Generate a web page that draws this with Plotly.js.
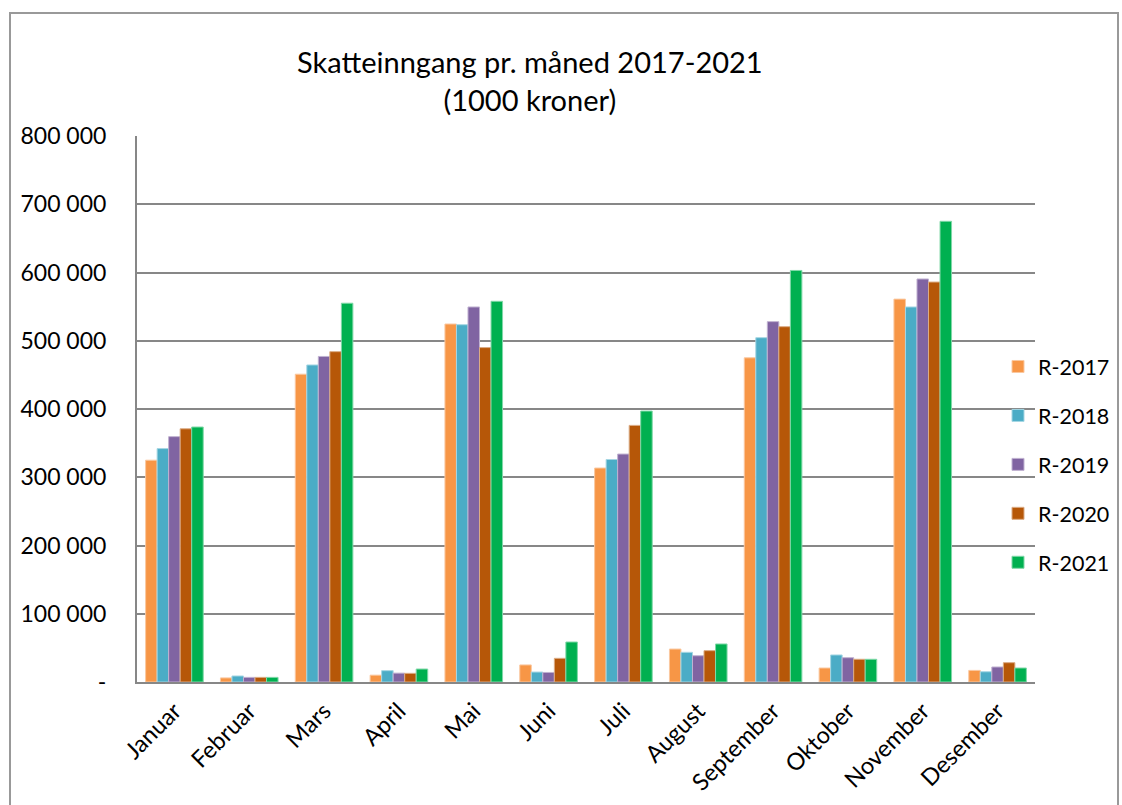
<!DOCTYPE html>
<html>
<head>
<meta charset="utf-8">
<script src="https://cdn.plot.ly/plotly-3.0.1.min.js"></script>
<style>html,body{margin:0;padding:0;background:#fff;}#chart{width:1122px;height:805px;}</style>
</head>
<body>
<div id="chart"></div>
<script>
const months = ["Januar","Februar","Mars","April","Mai","Juni","Juli","August","September","Oktober","November","Desember"];
const seriesNames = ["R-2017","R-2018","R-2019","R-2020","R-2021"];
const r2017 = [325000, 6000, 451000, 10000, 524500, 25000, 313500, 48300, 475000, 20500, 561000, 17000];
const r2018 = [342000, 8800, 464500, 16600, 523500, 14600, 326000, 43500, 504500, 39600, 549500, 15000];
const r2019 = [359500, 6800, 477000, 13000, 549500, 14000, 334000, 38500, 528000, 35600, 590500, 22000];
const r2020 = [371000, 6800, 484000, 12700, 490000, 34700, 376000, 45900, 520600, 33300, 586000, 28300];
const r2021 = [373600, 6800, 555000, 19000, 557800, 58600, 397000, 55700, 603000, 33300, 675000, 20500];
const yTickVals = [0, 100000, 200000, 300000, 400000, 500000, 600000, 700000, 800000];
const yTickText = ["-", "100 000", "200 000", "300 000", "400 000", "500 000", "600 000", "700 000", "800 000"];
const titleText = "Skatteinngang pr. måned 2017-2021<br>(1000 kroner)";

const colors = ["#F79646", "#4BACC6", "#8064A2", "#B65708", "#00B050"];
const edge = ["#FAC8A0", "#A5D6E3", "#C0B2D1", "#DBAB84", "#80D8A8"];
const values = [r2017, r2018, r2019, r2020, r2021];

const data = values.map((v, i) => ({
  type: "bar",
  name: seriesNames[i],
  x: months,
  y: v,
  legendgroup: "g" + i,
  marker: {color: colors[i], line: {color: edge[i], width: 1}},
  hoverinfo: "x+y+name"
}));

const font = "Lato, 'Open Sans', sans-serif";
const L = 137, R = 1035, T = 136, B = 682;
const W = R - L, H = B - T;

const layout = {
  width: 1122, height: 805,
  margin: {l: L, r: 1122 - R, t: T, b: 805 - B, autoexpand: false},
  paper_bgcolor: "#ffffff",
  plot_bgcolor: "#ffffff",
  font: {family: font, size: 22, color: "#000"},
  barmode: "group",
  bargap: 0.23,
  bargroupgap: 0,
  xaxis: {
    type: "category",
    tickangle: -45,
    showgrid: false,
    showline: true, linecolor: "#878787", linewidth: 2,
    ticks: "", ticklabelstandoff: 4,
    tickfont: {family: font, size: 23.5, color: "#000"},
    automargin: false
  },
  yaxis: {
    range: [0, 800000],
    tickvals: yTickVals, ticktext: yTickText,
    showgrid: true, gridcolor: "#878787", gridwidth: 2,
    showline: true, linecolor: "#878787", linewidth: 2,
    zeroline: false,
    ticks: "", ticklabelstandoff: 24,
    tickfont: {family: font, size: 23, color: "#000"},
    automargin: false
  },
  legend: {
    xref: "paper", yref: "paper",
    x: (998 - L) / W, xanchor: "left",
    y: (B - 346) / H, yanchor: "top",
    font: {family: font, size: 21.5, color: "#000"},
    traceorder: "grouped", tracegroupgap: 18,
    itemwidth: 30, bgcolor: "rgba(0,0,0,0)"
  },
  annotations: [{
    text: titleText, showarrow: false,
    xref: "paper", yref: "paper",
    x: (530 - L) / W, xanchor: "center",
    y: (B - 81) / H, yanchor: "middle",
    font: {family: font, size: 29, color: "#000"},
    align: "center"
  }],
  shapes: [{
    type: "rect", xref: "paper", yref: "paper",
    x0: (10 - L) / W, x1: (1118 - L) / W,
    y0: (B - 830) / H, y1: (B - 13) / H,
    line: {color: "#999999", width: 2}, fillcolor: "rgba(0,0,0,0)", layer: "below"
  }],
  showlegend: true
};

Plotly.newPlot("chart", data, layout, {displayModeBar: false, staticPlot: true});
</script>
</body>
</html>
